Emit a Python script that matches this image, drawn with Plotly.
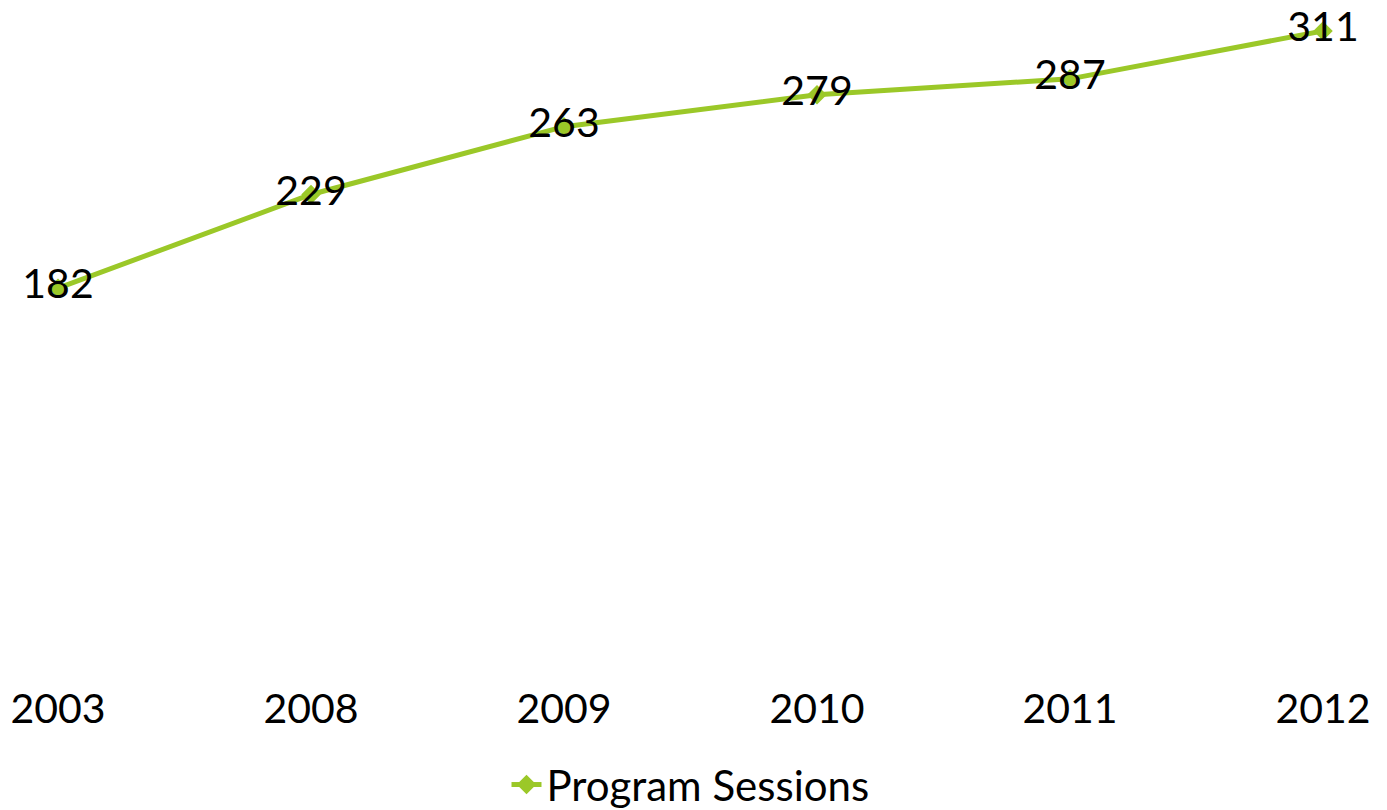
import plotly.graph_objects as go

years = ["2003", "2008", "2009", "2010", "2011", "2012"]
sessions = [182, 229, 263, 279, 287, 311]
series_name = "Program Sessions"

color = "#9BC828"
font_family = "Lato, 'Open Sans', sans-serif"

fig = go.Figure()
fig.add_trace(go.Scatter(
    x=years, y=sessions, name=series_name,
    mode="lines+markers+text",
    text=[str(v) for v in sessions],
    textposition="middle center",
    textfont=dict(size=41, color="black", family=font_family),
    line=dict(color=color, width=5),
    marker=dict(symbol="diamond", size=15, color=color),
    cliponaxis=False,
))

# page body has an 8px default margin, so the figure is sized to fit inside it
fig.update_layout(
    width=1379, height=802,
    margin=dict(l=50, r=64, t=21, b=159, autoexpand=False),
    paper_bgcolor="white", plot_bgcolor="white",
    showlegend=True,
    legend=dict(orientation="h", x=0.5, xanchor="center", y=-0.215, yanchor="middle",
                font=dict(size=42, color="black", family=font_family)),
    xaxis=dict(type="category", range=[0, 5], showgrid=False, showline=False, zeroline=False,
               ticks="", ticklabelstandoff=30, automargin=False,
               tickfont=dict(size=41, color="black", family=font_family)),
    yaxis=dict(range=[0, 312], visible=False, showgrid=False, zeroline=False, automargin=False),
)

fig.write_html("out.html")
